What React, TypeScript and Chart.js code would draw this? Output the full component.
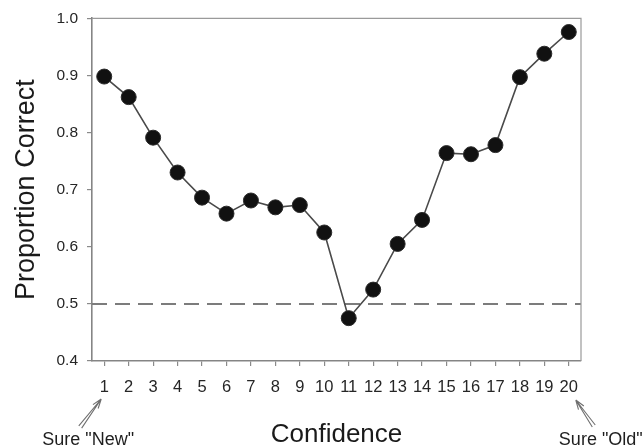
import React, { useEffect, useRef } from "react";
import { Chart, registerables } from "chart.js";

Chart.register(...registerables);

// Confidence rating bins (1 = sure "new", 20 = sure "old")
const confidenceBins = [
  "1", "2", "3", "4", "5", "6", "7", "8", "9", "10",
  "11", "12", "13", "14", "15", "16", "17", "18", "19", "20",
];

// Proportion of correct responses at each confidence level
const proportionCorrect = [
  0.898, 0.862, 0.791, 0.73, 0.686, 0.658, 0.681, 0.669, 0.673, 0.625,
  0.475, 0.525, 0.605, 0.647, 0.764, 0.762, 0.778, 0.897, 0.938, 0.976,
];

// Y axis range and tick step
const yMin = 0.4;
const yMax = 1.0;
const yStep = 0.1;

// Chance performance reference line
const chanceLevel = 0.5;

// End-point annotations
const lowEndLabel = 'Sure "New"';
const highEndLabel = 'Sure "Old"';

const FONT = "'Liberation Sans', Arial, Helvetica, sans-serif";

function drawArrow(
  ctx: CanvasRenderingContext2D,
  x0: number,
  y0: number,
  x1: number,
  y1: number
) {
  const ang = Math.atan2(y1 - y0, x1 - x0);
  const nx = -Math.sin(ang);
  const ny = Math.cos(ang);
  ctx.beginPath();
  ctx.moveTo(x0 + nx * 1.8, y0 + ny * 1.8);
  ctx.lineTo(x1, y1);
  ctx.moveTo(x0 - nx * 1.8, y0 - ny * 1.8);
  ctx.lineTo(x1, y1);
  const h = 10;
  for (const s of [-1, 1]) {
    const a2 = ang + Math.PI + s * 0.33;
    ctx.moveTo(x1, y1);
    ctx.lineTo(x1 + h * Math.cos(a2), y1 + h * Math.sin(a2));
  }
  ctx.stroke();
}

const decorPlugin = {
  id: "decor",
  beforeDatasetsDraw(chart: any) {
    const { ctx, chartArea: a, scales } = chart;
    const y = scales.y;
    ctx.save();
    // dashed chance line across the full plot width
    const yy = y.getPixelForValue(chanceLevel);
    ctx.strokeStyle = "#7c7c7c";
    ctx.lineWidth = 2;
    ctx.setLineDash([15, 8]);
    ctx.beginPath();
    ctx.moveTo(a.left, yy);
    ctx.lineTo(a.right, yy);
    ctx.stroke();
    ctx.setLineDash([]);
    // top and right sides of the frame
    ctx.strokeStyle = "#9a9a9a";
    ctx.lineWidth = 1.2;
    ctx.beginPath();
    ctx.moveTo(a.left, a.top);
    ctx.lineTo(a.right, a.top);
    ctx.lineTo(a.right, a.bottom);
    ctx.stroke();
    ctx.restore();
  },
  afterDraw(chart: any) {
    const { ctx, chartArea: a, scales } = chart;
    const x = scales.x;
    const pFirst = x.getPixelForValue(0);
    const pLast = x.getPixelForValue(confidenceBins.length - 1);
    const base = a.bottom;
    ctx.save();
    ctx.strokeStyle = "#6f6f6f";
    ctx.lineWidth = 1.1;
    drawArrow(ctx, pFirst - 24, base + 66, pFirst - 3, base + 38);
    drawArrow(ctx, pLast + 25, base + 65, pLast + 7, base + 39);
    ctx.fillStyle = "#1e1e1e";
    ctx.font = `18px ${FONT}`;
    ctx.textAlign = "center";
    ctx.textBaseline = "middle";
    ctx.fillText(lowEndLabel, pFirst - 16, base + 79);
    ctx.fillText(highEndLabel, pLast + 32, base + 79);
    ctx.restore();
  },
};

export default function App() {
  const canvasRef = useRef<HTMLCanvasElement | null>(null);

  useEffect(() => {
    if (!canvasRef.current) return;
    const chart = new Chart(canvasRef.current, {
      type: "line",
      data: {
        labels: confidenceBins,
        datasets: [
          {
            data: proportionCorrect,
            borderColor: "#4a4a4a",
            borderWidth: 1.6,
            backgroundColor: "#111111",
            pointBackgroundColor: "#111111",
            pointBorderColor: "#2a2a2a",
            pointBorderWidth: 1,
            pointRadius: 7.5,
            pointHoverRadius: 7.5,
            tension: 0,
            fill: false,
          },
        ],
      },
      options: {
        responsive: true,
        maintainAspectRatio: false,
        animation: false,
        events: [],
        layout: { padding: { left: 0, right: 62, top: 18, bottom: 0 } },
        plugins: {
          legend: { display: false },
          tooltip: { enabled: false },
          title: { display: false },
        },
        scales: {
          x: {
            type: "category",
            offset: true,
            afterFit(scale: any) {
              scale.height = 87;
            },
            grid: {
              offset: false,
              drawOnChartArea: false,
              drawTicks: true,
              tickLength: 5,
              color: "#8a8a8a",
              lineWidth: 1.2,
            },
            border: { display: true, color: "#858585", width: 1.6 },
            ticks: {
              color: "#262626",
              font: { family: FONT, size: 16.5 },
              padding: 12,
              maxRotation: 0,
              autoSkip: false,
            },
            title: {
              display: true,
              text: "Confidence",
              color: "#1a1a1a",
              font: { family: FONT, size: 26, lineHeight: 1 },
              padding: { top: 0, bottom: 0 },
            },
          },
          y: {
            type: "linear",
            min: yMin,
            max: yMax,
            afterFit(scale: any) {
              scale.width = 92;
            },
            grid: {
              drawOnChartArea: false,
              drawTicks: true,
              tickLength: 5,
              color: "#8a8a8a",
              lineWidth: 1.2,
            },
            border: { display: true, color: "#858585", width: 1.6 },
            ticks: {
              stepSize: yStep,
              color: "#262626",
              font: { family: FONT, size: 15.5 },
              padding: 9,
              callback: (v: any) => Number(v).toFixed(1),
            },
            title: {
              display: true,
              text: "Proportion Correct",
              color: "#1a1a1a",
              font: { family: FONT, size: 27, lineHeight: 1 },
              padding: { top: 13, bottom: 0 },
            },
          },
        },
      },
      plugins: [decorPlugin],
    });
    return () => chart.destroy();
  }, []);

  return (
    <div
      style={{
        position: "fixed",
        left: 0,
        top: 0,
        width: 643,
        height: 448,
        background: "#ffffff",
      }}
    >
      <canvas ref={canvasRef} />
    </div>
  );
}
